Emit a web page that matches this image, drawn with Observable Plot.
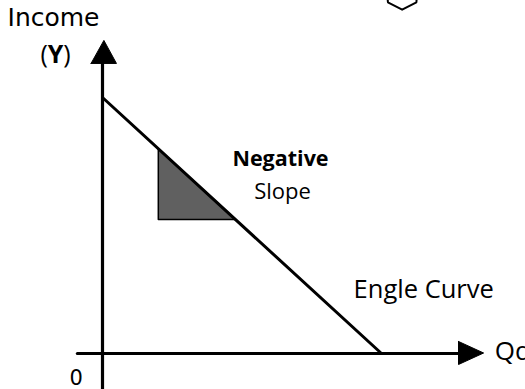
<!DOCTYPE html>
<html>
<head>
<meta charset="utf-8">
<script src="https://cdn.jsdelivr.net/npm/d3@7"></script>
<script src="https://cdn.jsdelivr.net/npm/@observablehq/plot@0.6"></script>
<style>
  html, body { margin: 0; padding: 0; background: #fff; overflow: hidden; }
  #chart svg { overflow: hidden; display: block; }
</style>
</head>
<body>
<div id="chart"></div>
<script>
// Chart coordinate system: quantity (q) and income (y), origin at axes crossing.
const xDomain = [-3.656, 15.161];
const yDomain = [-1.406, 13.789];

// Engel curve (straight, negative slope)
const engelCurve = [{q: 0, y: 10}, {q: 10, y: 0}];

// Shaded slope triangle
const slopeTriangle = [{q: 2, y: 8}, {q: 2, y: 5.23}, {q: 4.77, y: 5.23}, {q: 2, y: 8}];

// Axes
const yAxisLine = [{q: 0, y: -1.6}, {q: 0, y: 11.5}];
const yArrow = [{q: -0.41, y: 11.33}, {q: 0.05, y: 12.23}, {q: 0.5, y: 11.33}, {q: -0.41, y: 11.33}];
const xAxisLine = [{q: -0.9, y: 0}, {q: 12.9, y: 0}];
const xArrow = [{q: 12.76, y: 0.47}, {q: 13.66, y: 0.02}, {q: 12.76, y: -0.43}, {q: 12.76, y: 0.47}];

// Partial shape at top edge
const topShape = [{q: 10.2, y: 14.1}, {q: 10.23, y: 13.72}, {q: 10.74, y: 13.43}, {q: 11.25, y: 13.72}, {q: 11.28, y: 14.1}];

// Labels
const incomeLabel = [{q: -3.405, y: 12.81, text: "Income"}];
const parenLabels = [
  {q: -2.222, y: 11.33, text: "("},
  {q: -1.41, y: 11.33, text: ")"}
];
const boldYLabel = [{q: -1.96, y: 11.33, text: "Y"}];
const originLabel = [{q: -1.183, y: -1.22, text: "0"}];
const boldNote = [{q: 6.38, y: 7.34, text: "Negative"}];
const slopeNote = [{q: 6.45, y: 6.05, text: "Slope"}];
const curveLabel = [{q: 9.0, y: 2.15, text: "Engle Curve"}];
const quantityLabel = [{q: 14.06, y: -0.25, text: "Qd"}];

const sans = "'Open Sans', sans-serif";
const dejavu = "'DejaVu Sans', sans-serif";

const chart = Plot.plot({
  width: 525,
  height: 389,
  margin: 0,
  x: {domain: xDomain, axis: null},
  y: {domain: yDomain, axis: null},
  style: {background: "#fff", color: "#000"},
  marks: [
    Plot.line(topShape, {x: "q", y: "y", stroke: "#000", strokeWidth: 2}),
    Plot.line(slopeTriangle, {x: "q", y: "y", fill: "#606060", stroke: "#000", strokeWidth: 1.5}),
    Plot.line(yAxisLine, {x: "q", y: "y", stroke: "#000", strokeWidth: 3.2}),
    Plot.line(yArrow, {x: "q", y: "y", fill: "#000", stroke: "#000", strokeWidth: 1}),
    Plot.line(xAxisLine, {x: "q", y: "y", stroke: "#000", strokeWidth: 3.2}),
    Plot.line(xArrow, {x: "q", y: "y", fill: "#000", stroke: "#000", strokeWidth: 1}),
    Plot.line(engelCurve, {x: "q", y: "y", stroke: "#000", strokeWidth: 3}),
    Plot.text(incomeLabel, {x: "q", y: "y", text: "text", textAnchor: "start", lineAnchor: "bottom", fontSize: 25, fontFamily: dejavu, fill: "#000"}),
    Plot.text(parenLabels, {x: "q", y: "y", text: "text", textAnchor: "start", lineAnchor: "bottom", fontSize: 25, fontFamily: sans, fill: "#000"}),
    Plot.text(boldYLabel, {x: "q", y: "y", text: "text", textAnchor: "start", lineAnchor: "bottom", fontSize: 25, fontWeight: "bold", fontFamily: sans, fill: "#000"}),
    Plot.text(originLabel, {x: "q", y: "y", text: "text", textAnchor: "start", lineAnchor: "bottom", fontSize: 21, fontFamily: dejavu, fill: "#000"}),
    Plot.text(boldNote, {x: "q", y: "y", text: "text", textAnchor: "middle", lineAnchor: "bottom", fontSize: 21.5, fontWeight: "bold", fontFamily: sans, fill: "#000"}),
    Plot.text(slopeNote, {x: "q", y: "y", text: "text", textAnchor: "middle", lineAnchor: "bottom", fontSize: 22, fontFamily: sans, fill: "#000"}),
    Plot.text(curveLabel, {x: "q", y: "y", text: "text", textAnchor: "start", lineAnchor: "bottom", fontSize: 25.5, fontFamily: sans, fill: "#000"}),
    Plot.text(quantityLabel, {x: "q", y: "y", text: "text", textAnchor: "start", lineAnchor: "bottom", fontSize: 26, fontFamily: sans, fill: "#000"})
  ]
});
document.getElementById("chart").appendChild(chart);
</script>
</body>
</html>
